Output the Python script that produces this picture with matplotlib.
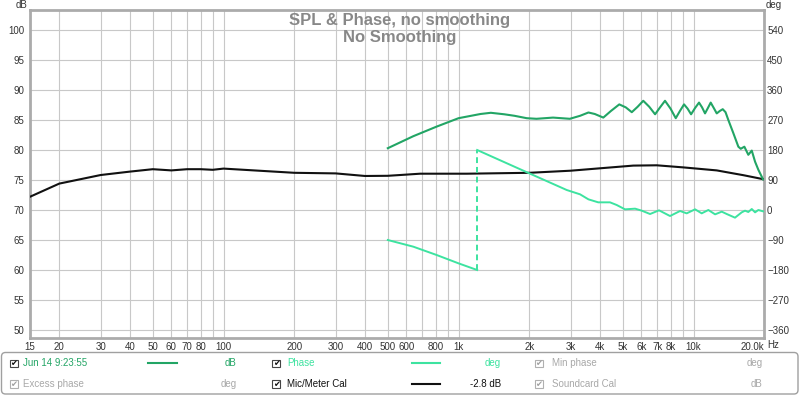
import matplotlib
matplotlib.use("Agg")
import matplotlib.pyplot as plt
from matplotlib.patches import Rectangle, FancyBboxPatch
from matplotlib.lines import Line2D
from matplotlib.ticker import FixedLocator, FixedFormatter, NullLocator

plt.rcParams['font.family'] = ['Liberation Sans', 'DejaVu Sans']

# ---------------- data ----------------
cal_freq = [15, 20, 30, 40, 50, 60, 70, 80, 90, 100, 200, 300, 400, 500, 564, 686,
            1083, 2000, 3000, 4000, 5540, 6970, 9050, 12550, 14770, 16300, 20000]
cal_db = [72.2, 74.4, 75.83, 76.4, 76.8, 76.6, 76.8, 76.8, 76.7, 76.9, 76.2, 76.1, 75.67,
          75.7, 75.83, 76.05, 76.05, 76.2, 76.55, 76.95, 77.4, 77.45, 77.1, 76.6, 76.1,
          75.8, 75.1]

spl_freq = [500, 642, 807, 1000, 1240, 1372, 1566, 1730, 1950, 2146, 2524, 2976, 3290,
            3570, 3800, 4130, 4450, 4830, 5150, 5460, 5780, 6110, 6480, 6860, 7200, 7560,
            7980, 8400, 8750, 9110, 9430, 9760, 10150, 10550, 10870, 11190, 11510, 11830,
            12190, 12550, 12930, 13310, 13680, 14060, 14770, 15510, 15880, 16450, 17100,
            17690, 18270, 18870, 19760]
spl_db = [80.3, 82.3, 83.9, 85.3, 86.0, 86.2, 85.95, 85.7, 85.3, 85.2, 85.4, 85.2, 85.7,
          86.25, 86.0, 85.4, 86.5, 87.6, 87.1, 86.3, 87.2, 88.2, 87.2, 85.95, 87.1, 88.2,
          86.9, 85.3, 86.5, 87.6, 86.9, 85.95, 87.0, 87.9, 87.1, 86.1, 87.0, 87.9,
          87.0, 86.1, 86.5, 86.8, 86.3, 85.0, 82.8, 80.55, 80.2, 80.55, 79.2,
          79.9, 78.05, 76.7, 75.1]

phase_freq_a = [500, 642, 807, 1000, 1200]
phase_deg_a = [-90, -110, -135, -160, -180]
phase_freq_b = [1200, 2000, 2886, 3290, 3570, 3930, 4410, 4710, 5110, 5640, 6020, 6530,
                7130, 7940, 8760, 9350, 10150, 10830, 11560, 12350, 13180, 13840, 15010,
                16030, 16560, 17100, 17690, 18270, 18870, 19760]
phase_deg_b = [180, 110, 60, 47, 32, 23, 23, 15, 2, 4, -2, -12, -1, -18, -3, -10, 2, -10,
               0, -13, -5, -12, -23, -7, -2, -6, 3, -7, 0, -4]

x_ticks = [15, 20, 30, 40, 50, 60, 70, 80, 90, 100, 200, 300, 400, 500, 600, 700, 800, 900,
           1000, 2000, 3000, 4000, 5000, 6000, 7000, 8000, 9000, 10000, 20000]
x_labels = ['15', '20', '30', '40', '50', '60', '70', '80', '', '100', '200', '300', '400',
            '500', '600', '', '800', '', '1k', '2k', '3k', '4k', '5k', '6k', '7k', '8k', '',
            '10k', '20.0k']
db_ticks = [50, 55, 60, 65, 70, 75, 80, 85, 90, 95, 100]
deg_ticks = [-360, -270, -180, -90, 0, 90, 180, 270, 360, 450, 540]

title1 = 'SPL & Phase, no smoothing'
title2 = 'No Smoothing'

# ---------------- style ----------------
W, H = 800, 397
SPL_C = '#22a565'
PH_C = '#3de3a0'
CAL_C = '#111111'
GRID_C = '#c8c8c8'
FRAME_C = '#ababab'
TXT_C = '#333333'
DIS_C = '#a8a8a8'

fig = plt.figure(figsize=(W / 100, H / 100), dpi=100)
L, R, T, B = 29.9, 764.3, 10, 338
ax = fig.add_axes([L / W, 1 - B / H, (R - L) / W, (B - T) / H])
ax.set_xscale('log')
ax2 = ax.twinx()

ax.set_xlim(15, 20000)
y0, y1 = 48.67, 103.33
ax.set_ylim(y0, y1)
ax2.set_ylim((y0 - 50) * 18 - 360, (y1 - 50) * 18 - 360)

ax.xaxis.set_major_locator(FixedLocator(x_ticks))
ax.xaxis.set_major_formatter(FixedFormatter(x_labels))
ax.xaxis.set_minor_locator(NullLocator())
ax.set_yticks(db_ticks)
ax.yaxis.set_minor_locator(NullLocator())
ax2.set_yticks(deg_ticks)
ax2.yaxis.set_minor_locator(NullLocator())

ax.grid(True, color=GRID_C, lw=0.8)
ax.set_axisbelow(True)
ax.tick_params(length=0, labelsize=7, labelcolor=TXT_C)
ax.tick_params(axis='x', pad=3)
ax.tick_params(axis='y', pad=4)
ax2.tick_params(length=0, labelsize=7, labelcolor=TXT_C, pad=2)
for s in ax.spines.values():
    s.set_color(FRAME_C)
    s.set_linewidth(2)
for s in ax2.spines.values():
    s.set_visible(False)

ax.plot(cal_freq, cal_db, color=CAL_C, lw=1.5, zorder=3)
ax.plot(spl_freq, spl_db, color=SPL_C, lw=1.5, zorder=4)
ax2.plot(phase_freq_a, phase_deg_a, color=PH_C, lw=1.4)
ax2.plot(phase_freq_b, phase_deg_b, color=PH_C, lw=1.4)
ax2.plot([phase_freq_a[-1], phase_freq_b[0]], [phase_deg_a[-1], phase_deg_b[0]],
         color=PH_C, lw=1.4, ls=(0, (3, 2)))

fig.canvas.draw()
ax.xaxis.get_majorticklabels()[-1].set_horizontalalignment('right')

# titles and unit labels
fig.text(400 / W, 1 - 20.7 / H, title1, ha='center', va='center', fontsize=12,
         fontweight='bold', color='#888888')
fig.text(400 / W, 1 - 37.3 / H, title2, ha='center', va='center', fontsize=12,
         fontweight='bold', color='#888888')
fig.text(21.5 / W, 1 - 4.5 / H, 'dB', ha='center', va='center', fontsize=7, color=TXT_C)
fig.text(774 / W, 1 - 4.5 / H, 'deg', ha='center', va='center', fontsize=7, color=TXT_C)
fig.text(767 / W, 1 - 345.5 / H, 'Hz', ha='left', va='center', fontsize=7, color=TXT_C)

# ---------------- legend panel ----------------
ov = fig.add_axes([0, 0, 1, 1], zorder=5)
ov.set_xlim(0, W)
ov.set_ylim(H, 0)
ov.axis('off')
ov.patch.set_alpha(0)

ov.add_patch(FancyBboxPatch((1.5, 352.5), 796.5, 41.5,
                            boxstyle='round,pad=0,rounding_size=4',
                            fc='white', ec='#a0a0a0', lw=1))

def checkbox(x, y, enabled):
    ec = '#444444' if enabled else '#b0b0b0'
    ov.add_patch(Rectangle((x, y - 3.7), 7.5, 7.5, fc='white', ec=ec, lw=0.8))
    ov.text(x + 3.9, y + 0.3, '\u2714', ha='center', va='center', fontsize=6,
            color='#111111' if enabled else '#a0a0a0', family='DejaVu Sans')

rows = [363.3, 384.0]
checkbox(10, rows[0], True)
ov.text(23.3, rows[0], 'Jun 14 9:23:55', ha='left', va='center', fontsize=7, color=SPL_C)
ov.add_line(Line2D([147.7, 176.7], [rows[0], rows[0]], color=SPL_C, lw=1.5))
ov.text(236, rows[0], 'dB', ha='right', va='center', fontsize=7, color=SPL_C)

checkbox(10, rows[1], False)
ov.text(23.3, rows[1], 'Excess phase', ha='left', va='center', fontsize=7, color=DIS_C)
ov.text(236.7, rows[1], 'deg', ha='right', va='center', fontsize=7, color=DIS_C)

checkbox(272.3, rows[0], True)
ov.text(287.3, rows[0], 'Phase', ha='left', va='center', fontsize=7, color=PH_C)
ov.add_line(Line2D([411.7, 440], [rows[0], rows[0]], color=PH_C, lw=1.5))
ov.text(500.7, rows[0], 'deg', ha='right', va='center', fontsize=7, color=PH_C)

checkbox(272.3, rows[1], True)
ov.text(287.3, rows[1], 'Mic/Meter Cal', ha='left', va='center', fontsize=7, color='#111111')
ov.add_line(Line2D([411.7, 440], [rows[1], rows[1]], color=CAL_C, lw=1.5))
ov.text(500.7, rows[1], '-2.8 dB', ha='right', va='center', fontsize=7, color='#111111')

checkbox(535, rows[0], False)
ov.text(551.7, rows[0], 'Min phase', ha='left', va='center', fontsize=7, color=DIS_C)
ov.text(762.3, rows[0], 'deg', ha='right', va='center', fontsize=7, color=DIS_C)

checkbox(535, rows[1], False)
ov.text(551.7, rows[1], 'Soundcard Cal', ha='left', va='center', fontsize=7, color=DIS_C)
ov.text(762.3, rows[1], 'dB', ha='right', va='center', fontsize=7, color=DIS_C)

fig.savefig('out.png', dpi=100, facecolor='white')
